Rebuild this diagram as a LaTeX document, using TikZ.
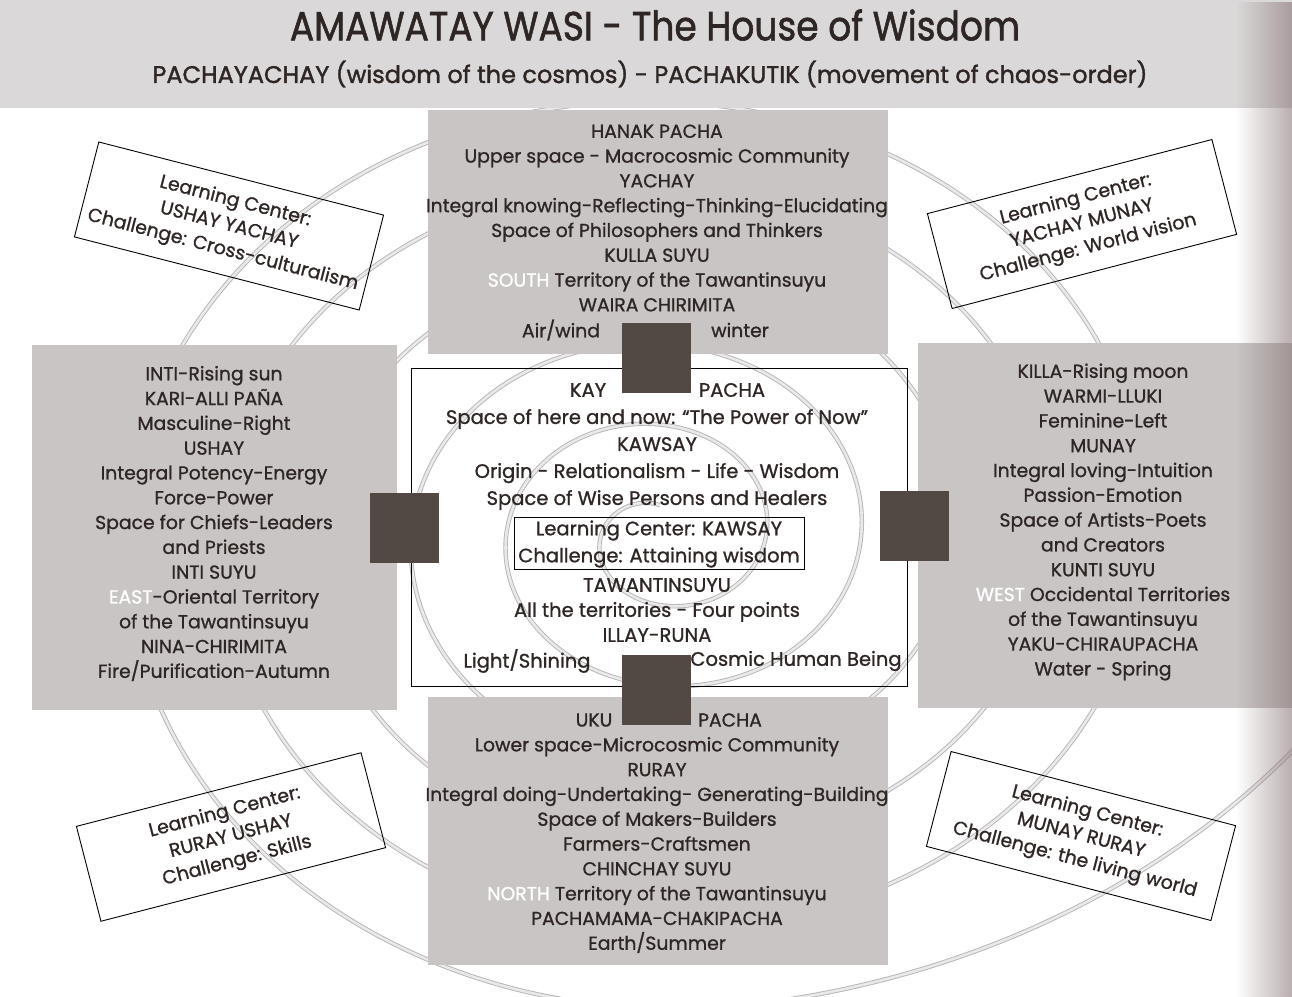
\documentclass[tikz,border=0pt]{standalone}
\usepackage{fontspec}
\setmainfont{Poppins}[FakeBold=1.0]
\newfontfamily\headfont{Poppins}[FakeBold=1.5]
\usetikzlibrary{fadings}

\definecolor{ink}{RGB}{46,38,36}
\definecolor{panelc}{RGB}{201,197,196}
\definecolor{bandc}{RGB}{218,216,216}
\definecolor{blockc}{RGB}{82,72,68}
\definecolor{swirlc}{RGB}{182,180,182}
\definecolor{swirlin}{RGB}{234,233,234}
\definecolor{edgec}{RGB}{130,108,110}

\newcommand{\diagbody}{\fontsize{18.8}{24.8}\selectfont}
\newcommand{\diagcenter}{\fontsize{19.5}{27}\selectfont}
\newcommand{\diaglc}{\fontsize{19}{25}\selectfont}

\tikzfading[name=edgefade, left color=transparent!100, right color=transparent!0]

\begin{document}
\begin{tikzpicture}[x=1pt,y=-1pt,
  panel/.style={fill=panelc, draw=none},
  corner/.style={fill=blockc, draw=none, minimum width=69pt, minimum height=70pt, inner sep=0pt},
  body/.style={font=\diagbody, text=ink, align=center, inner sep=0pt},
  core/.style={font=\diagcenter, text=ink, align=center, inner sep=0pt},
  lcbox/.style={draw=black, line width=0.9pt, font=\diaglc, text=ink, align=center,
    minimum width=294pt, minimum height=98pt, inner sep=0pt},
  swirl/.style={draw=swirlc, double=swirlin, double distance=2.6pt, line width=0.9pt}
]
\useasboundingbox (0,0) rectangle (1292,996);
\fill[white] (0,0) rectangle (1292,996);

% spiral in the background
\begin{scope}
\clip (0,0) rectangle (1292,996);
\draw[swirl] plot[domain=0:2085, samples=800, smooth]
  ({660 + (35 + 0.263889*\x + 95*(max(0,\x-1990)/55)^2)*cos(2070-\x)},
   {535 + 0.85*(35 + 0.263889*\x + 95*(max(0,\x-1990)/55)^2)*sin(2070-\x)});
\end{scope}

% header band
\fill[bandc] (0,0) rectangle (1292,108);
\node[text=ink, inner sep=0pt] (title) at (655,25)
  {\resizebox{730pt}{31pt}{\headfont AMAWATAY WASI - The House of Wisdom}};
\node[text=ink, inner sep=0pt] (subtitle) at (650,74)
  {\resizebox{995pt}{!}{\fontsize{22}{22}\headfont PACHAYACHAY (wisdom of the cosmos) - PACHAKUTIK (movement of chaos-order)}};

% four grey panels
\path[panel] (428,110) rectangle (888,354);
\path[panel] (32,345) rectangle (397,710);
\path[panel] (918,343) rectangle (1292,708);
\path[panel] (428,697) rectangle (888,965);

% central frame
\draw[line width=0.9pt] (411,368) rectangle (907,686);

% upper panel
\node[body] (hanak) at (657,218) {HANAK PACHA\\
Upper space - Macrocosmic Community\\
YACHAY\\
Integral knowing-Reflecting-Thinking-Elucidating\\
Space of Philosophers and Thinkers\\
KULLA SUYU\\
{\color{white}SOUTH} Territory of the Tawantinsuyu\\
WAIRA CHIRIMITA};
\node[body] (air) at (561,330) {Air/wind};
\node[body] (winter) at (740,330) {winter};

% left panel
\node[body] (inti) at (214,523.5) {INTI-Rising sun\\
KARI-ALLI PAÑA\\
Masculine-Right\\
USHAY\\
Integral Potency-Energy\\
Force-Power\\
Space for Chiefs-Leaders\\
and Priests\\
INTI SUYU\\
{\color{white}EAST}-Oriental Territory\\
of the Tawantinsuyu\\
NINA-CHIRIMITA\\
Fire/Purification-Autumn};

% right panel
\node[body] (killa) at (1103,522) {KILLA-Rising moon\\
WARMI-LLUKI\\
Feminine-Left\\
MUNAY\\
Integral loving-Intuition\\
Passion-Emotion\\
Space of Artists-Poets\\
and Creators\\
KUNTI SUYU\\
{\color{white}WEST} Occidental Territories\\
of the Tawantinsuyu\\
YAKU-CHIRAUPACHA\\
Water - Spring};

% lower panel
\node[body] (uku) at (594,720) {UKU};
\node[body] (ukupacha) at (730,720) {PACHA};
\node[body] (lower) at (657,845) {Lower space-Microcosmic Community\\
RURAY\\
Integral doing-Undertaking- Generating-Building\\
Space of Makers-Builders\\
Farmers-Craftsmen\\
CHINCHAY SUYU\\
{\color{white}NORTH} Territory of the Tawantinsuyu\\
PACHAMAMA-CHAKIPACHA\\
Earth/Summer};

% centre
\node[core] (kay) at (588,390) {KAY};
\node[core] (kaypacha) at (732,390) {PACHA};
\node[core] (kawsay) at (657,459.5) {Space of here and now: “The Power of Now”\\
KAWSAY\\
Origin - Relationalism - Life - Wisdom\\
Space of Wise Persons and Healers};
\draw[line width=0.9pt] (514,517) rectangle (804,569);
\node[core] (lccenter) at (659,544) {Learning Center: KAWSAY\\
Challenge: Attaining wisdom};
\node[core, font=\fontsize{19.5}{25}\selectfont] (tawa) at (657,610) {TAWANTINSUYU\\
All the territories - Four points\\
ILLAY-RUNA};
\node[core] (light) at (527,661) {Light/Shining};
\node[core] (cosmic) at (796,661) {Cosmic Human Being};

% dark connecting blocks
\node[corner] (sqn) at (656.5,358) {};
\node[corner] (sqs) at (656.5,690) {};
\node[corner] (sqw) at (404,527.5) {};
\node[corner] (sqe) at (914,526) {};

% tilted learning centres
\node[lcbox, rotate=-14.4] (lcnw) at (229,226) {Learning Center:\\ USHAY YACHAY\\ Challenge: Cross-culturalism};
\node[lcbox, rotate=14.6] (lcne) at (1082,224) {Learning Center:\\ YACHAY MUNAY\\ Challenge: World vision};
\node[lcbox, rotate=14.5] (lcsw) at (231,837) {Learning Center:\\ RURAY USHAY\\ Challenge: Skills};
\node[lcbox, rotate=-14.6] (lcse) at (1081,836) {Learning Center:\\ MUNAY RURAY\\ Challenge: the living world};

% page-edge shadow
\fill[edgec, path fading=edgefade, opacity=0.55] (1236,0) rectangle (1292,996);
\end{tikzpicture}
\end{document}
